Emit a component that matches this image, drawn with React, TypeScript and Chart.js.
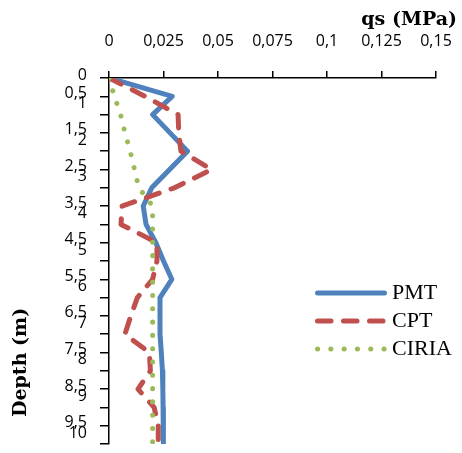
import React, { useEffect, useRef } from 'react';
import { Chart, registerables } from 'chart.js';

Chart.register(...registerables);

// Depth (m) at which each value was read
const depths = [0, 0.5, 1, 1.5, 2, 2.5, 3, 3.5, 4, 4.5, 5, 5.5, 6, 6.5, 7, 7.5, 8, 8.5, 9, 9.5, 10];

// qs (MPa) per series
const pmtValues = [0, 0.029, 0.02, 0.028, 0.036, 0.0278, 0.0196, 0.0157, 0.017, 0.0215, 0.025, 0.0288, 0.0234, 0.0234, 0.0234, 0.024, 0.0245, 0.0247, 0.0248, 0.0249, 0.025];
const cptValues = [0, 0.0165, 0.0317, 0.032, 0.033, 0.047, 0.03, 0.006, 0.0055, 0.022, 0.022, 0.02, 0.013, 0.01, 0.0073, 0.0185, 0.019, 0.0133, 0.0207, 0.0226, 0.0226];
const ciriaValues = [0, 0.0025, 0.0053, 0.0074, 0.0097, 0.0117, 0.0137, 0.02, 0.02, 0.02, 0.02, 0.02, 0.02, 0.02, 0.02, 0.02, 0.02, 0.02, 0.02, 0.02, 0.02];

const seriesNames = ['PMT', 'CPT', 'CIRIA'];
const xAxisTitle = 'qs (MPa)';
const yAxisTitle = 'Depth (m)';

const fmt = (v: number) => String(parseFloat(Number(v).toFixed(4))).replace('.', ',');

const toPoints = (vals: number[]) => vals.map((v, i) => ({ x: v, y: depths[i] }));

const zeroPadding = (s: any) => {
  s.paddingLeft = 0;
  s.paddingRight = 0;
  s.paddingTop = 0;
  s.paddingBottom = 0;
};

const overlay = {
  id: 'overlay',
  afterDatasetsDraw(chart: any) {
    const ctx = chart.ctx;
    chart.data.datasets.forEach((ds: any, i: number) => {
      const y = 293 + i * 28;
      ctx.save();
      ctx.strokeStyle = ds.borderColor;
      ctx.lineWidth = ds.borderWidth;
      ctx.lineCap = 'round';
      ctx.setLineDash(ds.borderDash || []);
      ctx.beginPath();
      ctx.moveTo(317.5, y);
      ctx.lineTo(384.5, y);
      ctx.stroke();
      ctx.setLineDash([]);
      ctx.fillStyle = '#000';
      ctx.font = '22px "Liberation Serif"';
      ctx.textBaseline = 'middle';
      ctx.textAlign = 'left';
      ctx.fillText(ds.label, 392, y);
      ctx.restore();
    });
    // rotated y-axis title
    ctx.save();
    ctx.translate(21, 417);
    ctx.rotate(-Math.PI / 2);
    ctx.fillStyle = '#000';
    ctx.font = 'bold 19px "DejaVu Serif"';
    ctx.textAlign = 'left';
    ctx.textBaseline = 'middle';
    ctx.fillText(yAxisTitle, 0, 0);
    ctx.restore();
  },
};

export default function App() {
  const ref = useRef<HTMLCanvasElement | null>(null);

  useEffect(() => {
    if (!ref.current) return;
    const axisFont = { family: '"Open Sans"', size: 16, lineHeight: 1.2 };
    const titleFont = { family: '"DejaVu Serif"', weight: 'bold' as const, size: 19, lineHeight: 1.2 };
    const chart = new Chart(ref.current, {
      type: 'scatter',
      data: {
        datasets: [
          {
            label: seriesNames[0],
            data: toPoints(pmtValues),
            showLine: true,
            borderColor: '#4F81BD',
            backgroundColor: '#4F81BD',
            borderWidth: 5,
            borderCapStyle: 'round',
            borderJoinStyle: 'round',
            pointRadius: 0,
            order: 3,
            xAxisID: 'x',
            yAxisID: 'y',
          },
          {
            label: seriesNames[1],
            data: toPoints(cptValues),
            showLine: true,
            borderColor: '#C0504D',
            backgroundColor: '#C0504D',
            borderWidth: 5,
            borderDash: [13.5, 12.5],
            borderCapStyle: 'round',
            borderJoinStyle: 'round',
            pointRadius: 0,
            order: 2,
            xAxisID: 'x',
            yAxisID: 'y',
          },
          {
            label: seriesNames[2],
            data: toPoints(ciriaValues),
            showLine: true,
            borderColor: '#9BBB59',
            backgroundColor: '#9BBB59',
            borderWidth: 5,
            borderDash: [0.1, 13.2],
            borderCapStyle: 'round',
            borderJoinStyle: 'round',
            pointRadius: 0,
            order: 1,
            xAxisID: 'x',
            yAxisID: 'y',
          },
        ],
      },
      options: {
        responsive: false,
        animation: false,
        layout: { padding: { left: 0, top: 0, right: 5, bottom: 9 } },
        plugins: {
          legend: { display: false },
          tooltip: { enabled: false },
          title: {
            display: true,
            text: xAxisTitle,
            align: 'end',
            color: '#000',
            font: titleFont,
            padding: { top: 8.6, bottom: 0 },
          },
        },
        scales: {
          x: {
            type: 'linear',
            position: 'top',
            min: 0,
            max: 0.15,
            ticks: {
              stepSize: 0.025,
              autoSkip: false,
              maxRotation: 0,
              color: '#000',
              font: axisFont,
              padding: 20,
              callback: (v: any) => fmt(v),
            },
            grid: { display: true, drawOnChartArea: false, drawTicks: true, tickLength: 7, color: '#000', lineWidth: 1.5 },
            border: { display: true, color: '#000', width: 1.5 },
            afterFit: (s: any) => { s.height = 46.6; zeroPadding(s); },
          },
          y: {
            type: 'linear',
            position: 'left',
            reverse: true,
            min: 0,
            max: 10,
            ticks: {
              stepSize: 0.5,
              autoSkip: false,
              color: '#000',
              font: { family: '"Open Sans"', size: 16, lineHeight: 1 },
              padding: 13,
              labelOffset: -3,
              callback: (v: any) => {
                const n = Number(v);
                const label = fmt(n);
                return Number.isInteger(n) && n !== 0 ? [label, ''] : label;
              },
            },
            grid: { display: true, drawOnChartArea: false, drawTicks: true, tickLength: 9, color: '#000', lineWidth: 1.5 },
            border: { display: true, color: '#000', width: 1.5 },
            afterFit: (s: any) => { s.width = 109; zeroPadding(s); },
          },
          y2: {
            type: 'linear',
            position: 'right',
            display: true,
            ticks: { display: false },
            grid: { display: false },
            border: { display: false },
            afterFit: (s: any) => { s.width = 21; zeroPadding(s); },
          },
        },
      },
      plugins: [overlay],
    } as any);
    return () => chart.destroy();
  }, []);

  return (
    <div style={{ position: 'fixed', left: 0, top: 0, width: 462, height: 453, background: '#fff' }}>
      <canvas ref={ref} width={462} height={453} style={{ display: 'block' }} />
    </div>
  );
}
